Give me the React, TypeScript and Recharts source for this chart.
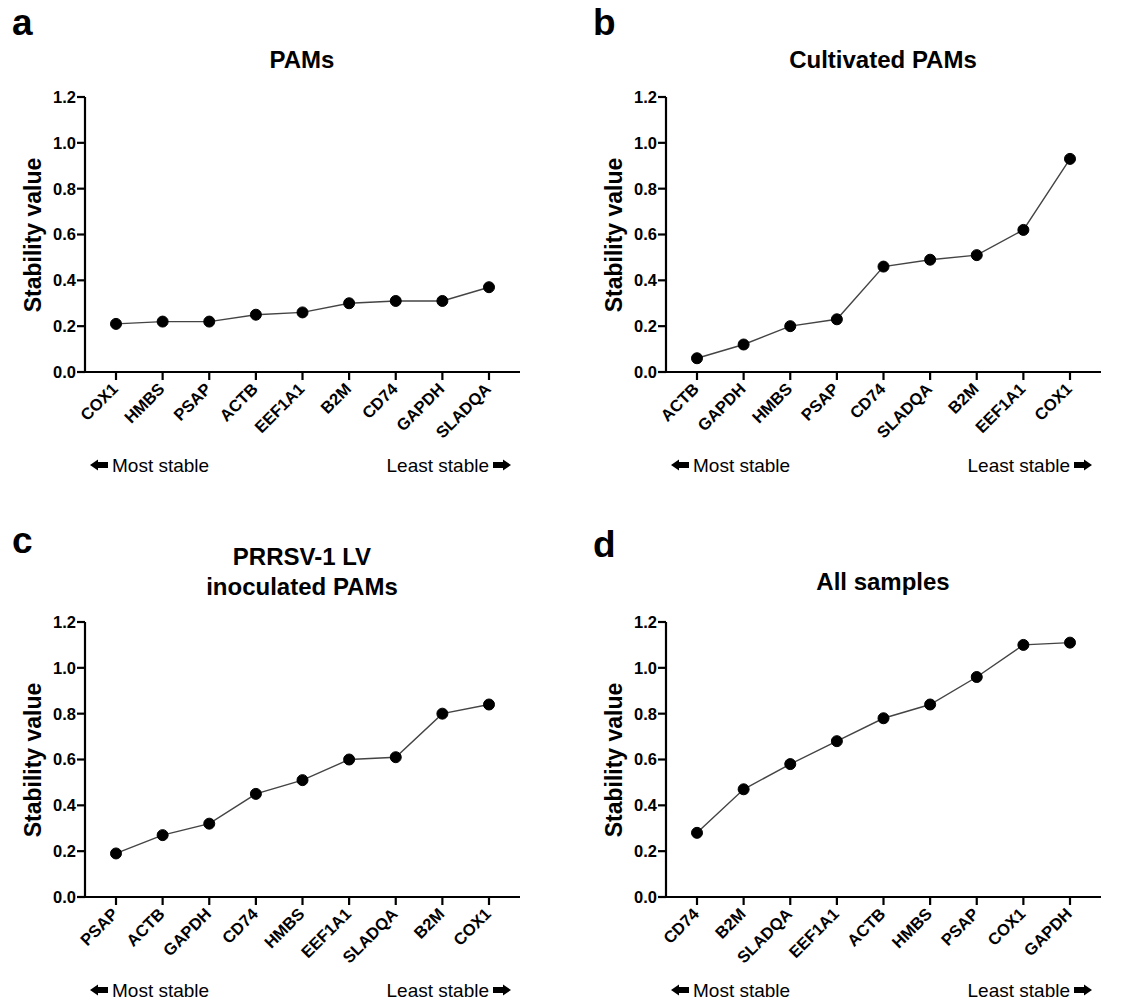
import React from 'react';
import { Line, LineChart, XAxis, YAxis } from 'recharts';

// gene order and stability values for each panel
const pamGenes = ['COX1', 'HMBS', 'PSAP', 'ACTB', 'EEF1A1', 'B2M', 'CD74', 'GAPDH', 'SLADQA'];
const pamValues = [0.21, 0.22, 0.22, 0.25, 0.26, 0.3, 0.31, 0.31, 0.37];

const cultGenes = ['ACTB', 'GAPDH', 'HMBS', 'PSAP', 'CD74', 'SLADQA', 'B2M', 'EEF1A1', 'COX1'];
const cultValues = [0.06, 0.12, 0.2, 0.23, 0.46, 0.49, 0.51, 0.62, 0.93];

const lvGenes = ['PSAP', 'ACTB', 'GAPDH', 'CD74', 'HMBS', 'EEF1A1', 'SLADQA', 'B2M', 'COX1'];
const lvValues = [0.19, 0.27, 0.32, 0.45, 0.51, 0.6, 0.61, 0.8, 0.84];

const allGenes = ['CD74', 'B2M', 'SLADQA', 'EEF1A1', 'ACTB', 'HMBS', 'PSAP', 'COX1', 'GAPDH'];
const allValues = [0.28, 0.47, 0.58, 0.68, 0.78, 0.84, 0.96, 1.1, 1.11];

const yTicks = [0, 0.2, 0.4, 0.6, 0.8, 1.0, 1.2];

const FONT = '"Liberation Sans", Arial, sans-serif';

const AngledTick = (props: any) => {
  const { x, y, payload } = props;
  return (
    <g transform={`translate(${x + 3},${y + 8})`}>
      <text textAnchor="end" transform="rotate(-45)" fontSize={16.5} fontWeight={700} fill="#000">
        {payload.value}
      </text>
    </g>
  );
};

interface PanelProps {
  genes: string[];
  values: number[];
  left: number;
  top: number;
}

function Panel({ genes, values, left, top }: PanelProps) {
  const data = genes.map((g, i) => ({ gene: g, value: values[i] }));
  return (
    <div style={{ position: 'absolute', left, top }}>
      <LineChart width={560} height={470} data={data} margin={{ top: 97, right: 40, bottom: 38, left: 0 }}>
        <XAxis
          dataKey="gene"
          scale="point"
          padding={{ left: 31, right: 31 }}
          interval={0}
          height={60}
          tickSize={8}
          axisLine={{ stroke: '#000', strokeWidth: 2.2 }}
          tickLine={{ stroke: '#000', strokeWidth: 2.2 }}
          tick={<AngledTick />}
        />
        <YAxis
          type="number"
          domain={[0, 1.2]}
          ticks={yTicks}
          width={85}
          tickSize={8}
          tickMargin={1}
          tickFormatter={(v: number) => v.toFixed(1)}
          axisLine={{ stroke: '#000', strokeWidth: 2.2 }}
          tickLine={{ stroke: '#000', strokeWidth: 2.2 }}
          tick={{ fill: '#000', fontSize: 16.5, fontWeight: 700 }}
        />
        <Line
          type="linear"
          dataKey="value"
          stroke="#444"
          strokeWidth={1.4}
          dot={{ r: 5.5, fill: '#000', stroke: '#000', strokeWidth: 1 }}
          activeDot={false}
          isAnimationActive={false}
        />
      </LineChart>
    </div>
  );
}

const leftArrow = (x: number, y: number) => (
  <polygon
    points={`${x},${y} ${x + 8},${y - 5.5} ${x + 8},${y - 3} ${x + 18},${y - 3} ${x + 18},${y + 3} ${x + 8},${y + 3} ${x + 8},${y + 5.5}`}
    fill="#000"
  />
);

const rightArrow = (x: number, y: number) => (
  <polygon
    points={`${x + 18},${y} ${x + 10},${y - 5.5} ${x + 10},${y - 3} ${x},${y - 3} ${x},${y + 3} ${x + 10},${y + 3} ${x + 10},${y + 5.5}`}
    fill="#000"
  />
);

// text decorations for one panel, dx/dy = panel offset
function Decor({ dx, dy, letter, letterY, titles, titleY }: any) {
  return (
    <g transform={`translate(${dx},${dy})`}>
      <text x={12} y={letterY} fontSize={37} fontWeight={700} fill="#000">
        {letter}
      </text>
      {titles.map((t: string, i: number) => (
        <text key={t} x={302} y={titleY + i * 30} textAnchor="middle" fontSize={24} fontWeight={700} fill="#000">
          {t}
        </text>
      ))}
      <text transform="translate(41,235) rotate(-90)" textAnchor="middle" fontSize={23} fontWeight={700} fill="#000">
        Stability value
      </text>
      {leftArrow(90, 465)}
      <text x={112} y={472} fontSize={19} fill="#000">
        Most stable
      </text>
      <text x={489} y={472} textAnchor="end" fontSize={19} fill="#000">
        Least stable
      </text>
      {rightArrow(493, 465)}
    </g>
  );
}

export default function App() {
  return (
    <div
      style={{
        position: 'absolute',
        left: 0,
        top: 0,
        width: 1144,
        height: 1002,
        overflow: 'hidden',
        background: '#fff',
        fontFamily: FONT,
      }}
    >
      <Panel genes={pamGenes} values={pamValues} left={0} top={0} />
      <Panel genes={cultGenes} values={cultValues} left={581} top={0} />
      <Panel genes={lvGenes} values={lvValues} left={0} top={525} />
      <Panel genes={allGenes} values={allValues} left={581} top={525} />
      <svg
        width={1144}
        height={1002}
        style={{ position: 'absolute', left: 0, top: 0, pointerEvents: 'none', fontFamily: FONT }}
      >
        <Decor dx={0} dy={0} letter="a" letterY={35} titles={['PAMs']} titleY={68} />
        <Decor dx={581} dy={0} letter="b" letterY={35} titles={['Cultivated PAMs']} titleY={68} />
        <Decor dx={0} dy={525} letter="c" letterY={28} titles={['PRRSV-1 LV', 'inoculated PAMs']} titleY={40} />
        <Decor dx={581} dy={525} letter="d" letterY={32} titles={['All samples']} titleY={65} />
      </svg>
    </div>
  );
}
